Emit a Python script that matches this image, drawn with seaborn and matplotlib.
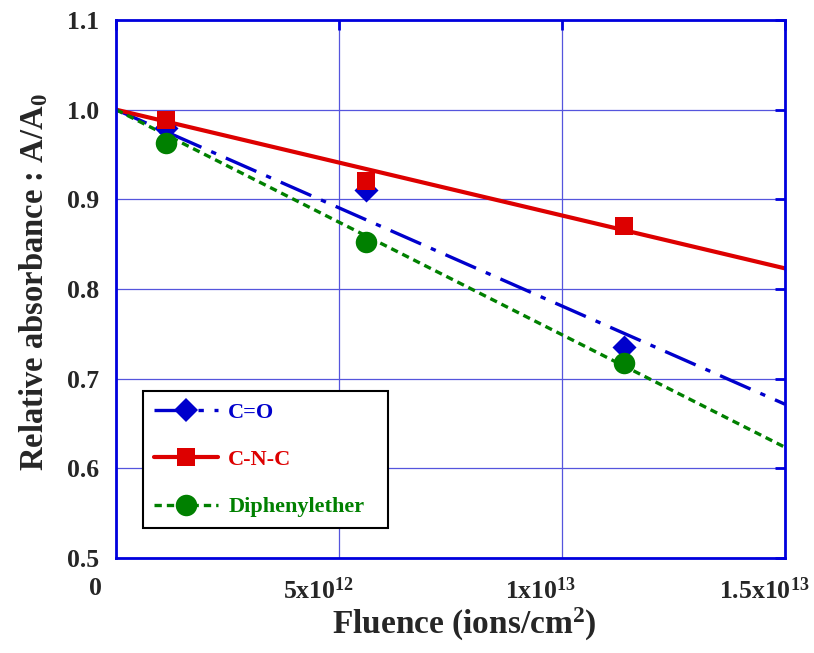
import numpy as np
import pandas as pd
import matplotlib
matplotlib.use("Agg")
import matplotlib.pyplot as plt
import matplotlib.transforms as mtransforms
from matplotlib.lines import Line2D
import seaborn as sns

# ---- data ----
fluence = [1.12e12, 5.61e12, 1.139e13]
co_vals = [0.980, 0.910, 0.735]
cnc_vals = [0.988, 0.920, 0.870]
dpe_vals = [0.963, 0.852, 0.718]
series_names = ["C=O", "C-N-C", "Diphenylether"]
# linear fit lines A/A0 = 1 - k * fluence (k per 1e13 ions/cm2)
fit_slopes = [0.219, 0.118, 0.251]
fit_range = [0.0, 1.5e13]
x_ticks = [0, 5e12, 1e13, 1.5e13]
x_ticklabels = ["0", "5x10$^{12}$", "1x10$^{13}$", "1.5x10$^{13}$"]
y_ticks = [0.5, 0.6, 0.7, 0.8, 0.9, 1.0, 1.1]
y_ticklabels = ["0.5", "0.6", "0.7", "0.8", "0.9", "1.0", "1.1"]

colors = ["#0000CC", "#DD0000", "#008000"]
markers = ["D", "s", "o"]
msizes = [150, 170, 240]
lws = [2.4, 3.0, 2.4]
dashes = [(10, 3.2, 1.6, 3.2), (), (2.2, 1.5)]

sns.set_style("white")
plt.rcParams["font.family"] = ["Liberation Serif", "DejaVu Serif"]
plt.rcParams["font.weight"] = "bold"
plt.rcParams["mathtext.fontset"] = "custom"
plt.rcParams["mathtext.rm"] = "Liberation Serif:bold"
plt.rcParams["mathtext.it"] = "Liberation Serif:bold:italic"
plt.rcParams["mathtext.bf"] = "Liberation Serif:bold"
plt.rcParams["mathtext.default"] = "rm"

fig = plt.figure(figsize=(8.14, 6.53), dpi=100)
ax = fig.add_axes([116 / 814, 1 - 558 / 653, (785 - 116) / 814, (558 - 20) / 653])

rows = []
for name, vals in zip(series_names, [co_vals, cnc_vals, dpe_vals]):
    for x, y in zip(fluence, vals):
        rows.append({"fluence": x, "value": y, "series": name})
df = pd.DataFrame(rows)

fit_rows = []
for name, k in zip(series_names, fit_slopes):
    for x in fit_range:
        fit_rows.append({"fluence": x, "value": 1 - k * x / 1e13, "series": name})
fit_df = pd.DataFrame(fit_rows)

# fit lines
for i, name in enumerate(series_names):
    sub = fit_df[fit_df.series == name]
    sns.lineplot(data=sub, x="fluence", y="value", ax=ax, color=colors[i],
                 lw=lws[i], legend=False, zorder=2)
    line = ax.lines[-1]
    if dashes[i]:
        line.set_dashes(dashes[i])

# markers
for i, name in enumerate(series_names):
    sub = df[df.series == name]
    sns.scatterplot(data=sub, x="fluence", y="value", ax=ax, color=colors[i],
                    marker=markers[i], s=msizes[i], linewidth=0, legend=False,
                    zorder=3 + i)

ax.set_xlim(0, 1.5e13)
ax.set_ylim(0.5, 1.1)
ax.set_xticks(x_ticks)
ax.set_xticklabels(x_ticklabels)
ax.set_yticks(y_ticks)
ax.set_yticklabels(y_ticklabels)
ax.grid(True, color="#5555DD", lw=0.9)
ax.set_axisbelow(True)
for sp in ax.spines.values():
    sp.set_color("#0000DD")
    sp.set_linewidth(2.0)
    sp.set_visible(True)
ax.tick_params(axis="both", which="major", direction="in", length=7, width=2.0,
               color="#0000DD", top=True, right=True, labelsize=18.5)
ax.tick_params(axis="x", pad=14)
ax.tick_params(axis="y", pad=12)
offset = mtransforms.ScaledTranslation(-21 / 100, 0, fig.dpi_scale_trans)
for lab in ax.get_xticklabels():
    lab.set_transform(lab.get_transform() + offset)
    lab.set_fontweight("bold")
for lab in ax.get_yticklabels():
    lab.set_fontweight("bold")

ax.set_xlabel("Fluence (ions/cm$^2$)", fontsize=24, fontweight="bold")
ax.set_ylabel("Relative absorbance : A/A$_0$", fontsize=23.5, fontweight="bold")
ax.xaxis.set_label_coords(0.52, -0.089)
ax.yaxis.set_label_coords(-0.099, 0.513)

handles = []
for i, name in enumerate(series_names):
    h = Line2D([0], [0], color=colors[i], lw=lws[i], marker=markers[i],
               markersize=np.sqrt(msizes[i]), markeredgewidth=0)
    if dashes[i]:
        h.set_dashes(dashes[i])
    handles.append(h)
leg = ax.legend(handles, series_names, loc="lower left",
                bbox_to_anchor=(0.04, 0.055, 245 / 669, 0.25), mode="expand",
                fancybox=False, framealpha=1,
                edgecolor="black", prop={"family": "Liberation Serif", "weight": "bold", "size": 16},
                handlelength=2.9, handletextpad=0.45, labelspacing=1.2,
                borderpad=0.5, borderaxespad=0)
leg.get_frame().set_linewidth(1.5)
for t, c in zip(leg.get_texts(), colors):
    t.set_color(c)

fig.savefig("out.png", dpi=100)
